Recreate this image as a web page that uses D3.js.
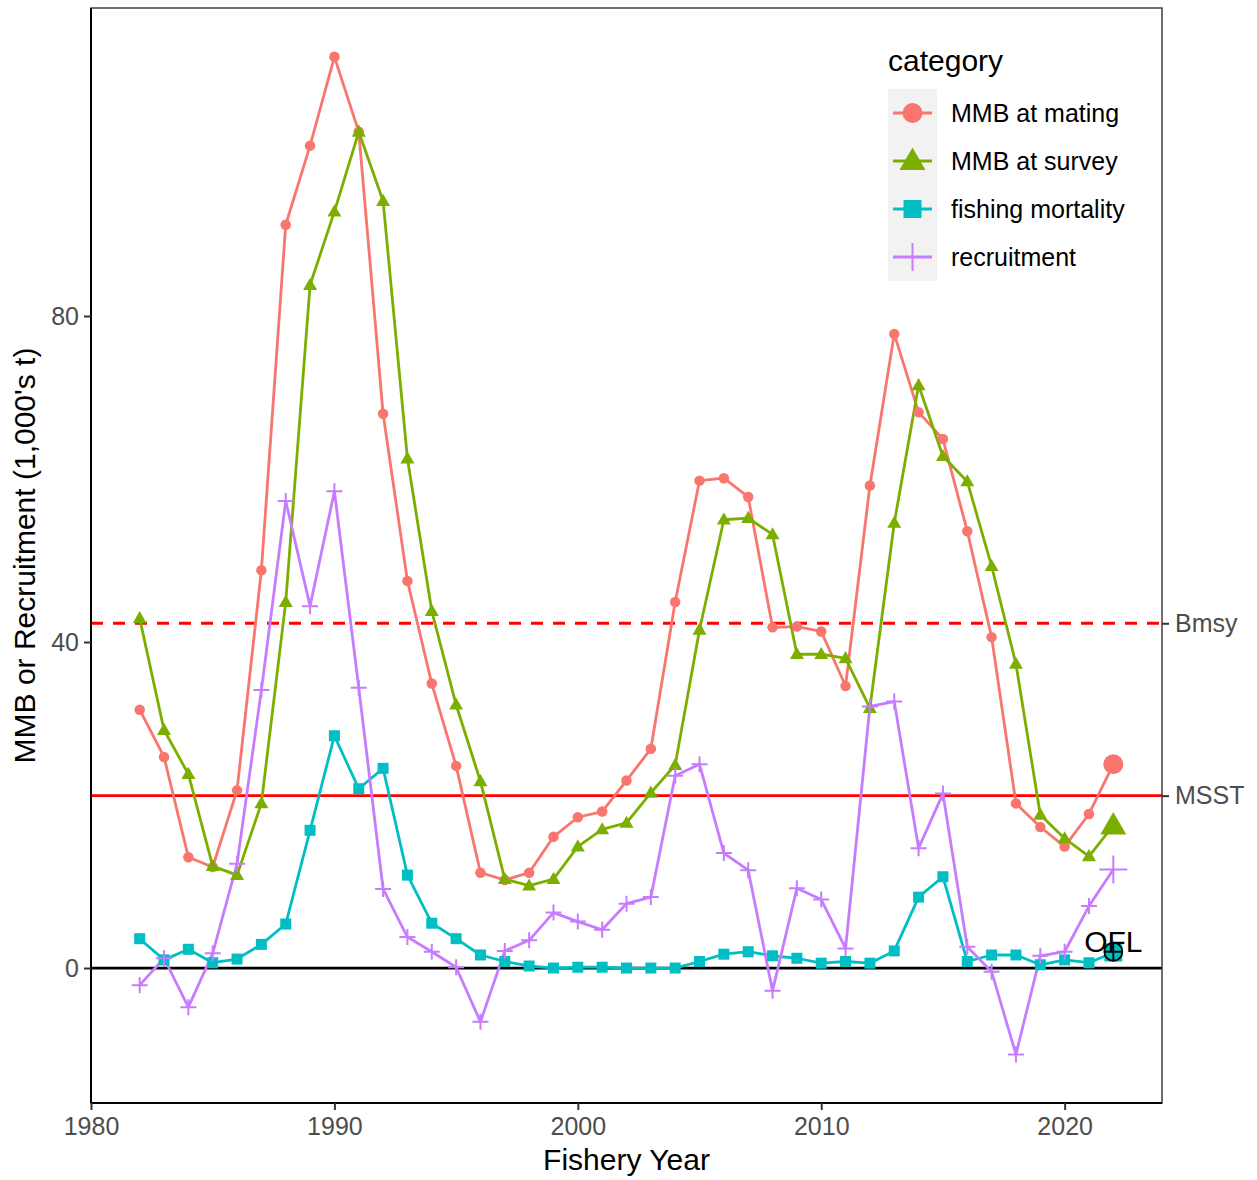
<!DOCTYPE html>
<html>
<head>
<meta charset="utf-8">
<script src="https://cdn.jsdelivr.net/npm/d3@7"></script>
<style>
  html, body { margin: 0; padding: 0; background: #fff; }
  svg { display: block; font-family: "Liberation Sans", Arial, sans-serif; }
</style>
</head>
<body>
<svg id="chart" width="1257" height="1180"></svg>
<script>
// Fishery years 1982-2022
const years = d3.range(1982, 2023);

const mmbMating = [31.7, 25.9, 13.6, 12.4, 21.8, 48.8, 91.2, 100.9, 111.8, 102.6,
  68.0, 47.5, 34.9, 24.8, 11.7, 10.8, 11.7, 16.1, 18.5, 19.2,
  23.0, 26.9, 44.9, 59.8, 60.1, 57.8, 41.8, 41.9, 41.3, 34.6,
  59.2, 77.8, 68.2, 64.9, 53.6, 40.6, 20.2, 17.3, 14.9, 18.9, 25.0];

const mmbSurvey = [42.9, 29.2, 23.8, 12.5, 11.4, 20.2, 44.9, 83.8, 92.8, 102.6,
  94.1, 62.5, 43.8, 32.3, 22.9, 10.9, 10.1, 10.9, 14.9, 17.0,
  17.8, 21.5, 24.9, 41.5, 55.0, 55.2, 53.2, 38.5, 38.5, 38.0,
  31.9, 54.6, 71.5, 62.8, 59.7, 49.3, 37.3, 18.8, 15.9, 13.7, 17.5];

const fishingMortality = [3.6, 1.0, 2.3, 0.65, 1.1, 2.9, 5.4, 16.9, 28.5, 22.0,
  24.5, 11.4, 5.5, 3.6, 1.6, 0.8, 0.25, 0.0, 0.1, 0.1,
  0.0, 0.0, 0.0, 0.8, 1.7, 2.0, 1.5, 1.2, 0.6, 0.8,
  0.6, 2.1, 8.7, 11.2, 0.8, 1.6, 1.6, 0.4, 1.0, 0.65, 1.9];

const recruitment = [-2.1, 1.2, -4.8, 1.8, 12.8, 34.1, 57.3, 44.4, 58.5, 34.4,
  9.7, 3.8, 2.0, 0.1, -6.6, 2.1, 3.4, 6.8, 5.7, 4.7,
  7.9, 8.7, 23.6, 25.0, 14.1, 12.0, -2.8, 9.8, 8.4, 2.4,
  32.1, 32.7, 14.7, 21.4, 2.6, -0.45, -10.6, 1.5, 2.0, 7.6, 12.1];

const categories = ["MMB at mating", "MMB at survey", "fishing mortality", "recruitment"];
const seriesValues = [mmbMating, mmbSurvey, fishingMortality, recruitment];
const seriesColors = ["#F8766D", "#7CAE00", "#00BFC4", "#C77CFF"];
const seriesShapes = ["circle", "triangle", "square", "cross"];

// Reference points
const bmsy = 42.3;
const msst = 21.15;
const oflYear = 2022;
const oflValue = 2.0;

const xTicks = [1980, 1990, 2000, 2010, 2020];
const yTicks = [0, 40, 80];
const refLabels = ["Bmsy", "MSST"];

const svg = d3.select("#chart");
const panel = { left: 91, right: 1162, top: 8, bottom: 1103 };

const x = d3.scaleLinear().domain([1980, 2024]).range([panel.left, panel.right]);
const y = d3.scaleLinear().domain([-16.56, 117.79]).range([panel.bottom, panel.top]);

const tickColor = "#4D4D4D";

// Panel background
svg.append("rect")
  .attr("x", panel.left).attr("y", panel.top)
  .attr("width", panel.right - panel.left).attr("height", panel.bottom - panel.top)
  .attr("fill", "#fff");

// Clip region for data
svg.append("defs").append("clipPath").attr("id", "panelClip")
  .append("rect")
  .attr("x", panel.left).attr("y", panel.top)
  .attr("width", panel.right - panel.left).attr("height", panel.bottom - panel.top);

const plot = svg.append("g").attr("clip-path", "url(#panelClip)");

// Zero line
plot.append("line")
  .attr("x1", panel.left).attr("x2", panel.right)
  .attr("y1", y(0)).attr("y2", y(0))
  .attr("stroke", "#000").attr("stroke-width", 2.8);

// Bmsy (dashed) and MSST (solid)
plot.append("line")
  .attr("x1", panel.left).attr("x2", panel.right)
  .attr("y1", y(bmsy)).attr("y2", y(bmsy))
  .attr("stroke", "#FF0000").attr("stroke-width", 2.8)
  .attr("stroke-dasharray", "12,10");
plot.append("line")
  .attr("x1", panel.left).attr("x2", panel.right)
  .attr("y1", y(msst)).attr("y2", y(msst))
  .attr("stroke", "#FF0000").attr("stroke-width", 2.8);

// Symbol drawing helper
function drawShape(g, shape, cx, cy, s, color) {
  if (shape === "circle") {
    g.append("circle").attr("cx", cx).attr("cy", cy).attr("r", s * 0.5).attr("fill", color);
  } else if (shape === "triangle") {
    const h = s * 0.866;
    g.append("path")
      .attr("d", `M${cx},${cy - h * 0.6}L${cx + s / 2},${cy + h * 0.4}L${cx - s / 2},${cy + h * 0.4}Z`)
      .attr("fill", color);
  } else if (shape === "square") {
    g.append("rect").attr("x", cx - s / 2).attr("y", cy - s / 2)
      .attr("width", s).attr("height", s).attr("fill", color);
  } else if (shape === "cross") {
    g.append("path")
      .attr("d", `M${cx - s / 2},${cy}H${cx + s / 2}M${cx},${cy - s / 2}V${cy + s / 2}`)
      .attr("stroke", color).attr("stroke-width", 2).attr("fill", "none");
  }
}

const pointSize = { circle: 10.5, triangle: 14, square: 11, cross: 16 };
const lastSize = { circle: 20, triangle: 26, square: 18, cross: 28 };

const line = d3.line().x(d => x(d[0])).y(d => y(d[1]));

seriesValues.forEach((vals, i) => {
  const pts = years.map((yr, j) => [yr, vals[j]]);
  plot.append("path")
    .datum(pts)
    .attr("d", line)
    .attr("fill", "none")
    .attr("stroke", seriesColors[i])
    .attr("stroke-width", 2.8)
    .attr("stroke-linejoin", "round");
});

seriesValues.forEach((vals, i) => {
  const g = plot.append("g");
  years.forEach((yr, j) => {
    const last = j === years.length - 1;
    const s = last ? lastSize[seriesShapes[i]] : pointSize[seriesShapes[i]];
    drawShape(g, seriesShapes[i], x(yr), y(vals[j]), s, seriesColors[i]);
  });
});

// OFL marker and label
const ofl = plot.append("g");
ofl.append("circle").attr("cx", x(oflYear)).attr("cy", y(oflValue)).attr("r", 9)
  .attr("fill", "none").attr("stroke", "#000").attr("stroke-width", 1.8);
ofl.append("path")
  .attr("d", `M${x(oflYear) - 9},${y(oflValue)}H${x(oflYear) + 9}M${x(oflYear)},${y(oflValue) - 9}V${y(oflValue) + 9}`)
  .attr("stroke", "#000").attr("stroke-width", 1.8);
svg.append("text")
  .attr("x", x(oflYear)).attr("y", y(oflValue))
  .attr("text-anchor", "middle")
  .attr("font-size", 30)
  .attr("fill", "#000")
  .text("OFL");

// Panel border
svg.append("rect")
  .attr("x", panel.left).attr("y", panel.top)
  .attr("width", panel.right - panel.left).attr("height", panel.bottom - panel.top)
  .attr("fill", "none").attr("stroke", "#333").attr("stroke-width", 1.4);
// Axis lines
svg.append("line").attr("x1", panel.left).attr("x2", panel.left)
  .attr("y1", panel.top).attr("y2", panel.bottom).attr("stroke", "#000").attr("stroke-width", 2);
svg.append("line").attr("x1", panel.left).attr("x2", panel.right)
  .attr("y1", panel.bottom).attr("y2", panel.bottom).attr("stroke", "#000").attr("stroke-width", 2);

// Axes
const xAxis = d3.axisBottom(x).tickValues(xTicks).tickFormat(d3.format("d")).tickSize(7).tickPadding(4);
const gx = svg.append("g").attr("transform", `translate(0,${panel.bottom})`).call(xAxis);
const yAxis = d3.axisLeft(y).tickValues(yTicks).tickSize(7).tickPadding(5);
const gy = svg.append("g").attr("transform", `translate(${panel.left},0)`).call(yAxis);
const yRight = d3.axisRight(y).tickValues([bmsy, msst]).tickFormat((d, i) => refLabels[i]).tickSize(7).tickPadding(6);
const gr = svg.append("g").attr("transform", `translate(${panel.right},0)`).call(yRight);

[gx, gy, gr].forEach(g => {
  g.select(".domain").remove();
  g.selectAll(".tick line").attr("stroke", "#333").attr("stroke-width", 2);
  g.selectAll(".tick text").attr("fill", tickColor).attr("font-size", 25)
    .attr("font-family", "Liberation Sans, Arial, sans-serif");
});
gx.selectAll(".tick text").attr("dy", "0.85em");

// Axis titles
svg.append("text")
  .attr("x", (panel.left + panel.right) / 2).attr("y", 1170)
  .attr("text-anchor", "middle").attr("font-size", 30).attr("fill", "#000")
  .text("Fishery Year");
svg.append("text")
  .attr("transform", `translate(35,${(panel.top + panel.bottom) / 2}) rotate(-90)`)
  .attr("text-anchor", "middle").attr("font-size", 30).attr("fill", "#000")
  .text("MMB or Recruitment (1,000's t)");

// Legend
const legend = svg.append("g").attr("transform", "translate(888,0)");
legend.append("text").attr("x", 0).attr("y", 71)
  .attr("font-size", 30).attr("fill", "#000").text("category");
legend.append("rect").attr("x", 0).attr("y", 89).attr("width", 49).attr("height", 192)
  .attr("fill", "#F2F2F2");
categories.forEach((c, i) => {
  const cy = 113 + i * 48;
  const g = legend.append("g");
  g.append("line").attr("x1", 5).attr("x2", 44).attr("y1", cy).attr("y2", cy)
    .attr("stroke", seriesColors[i]).attr("stroke-width", 2.8);
  drawShape(g, seriesShapes[i], 24.5, cy, lastSize[seriesShapes[i]], seriesColors[i]);
  g.append("text").attr("x", 63).attr("y", cy + 9)
    .attr("font-size", 25).attr("fill", "#000").text(c);
});
</script>
</body>
</html>
